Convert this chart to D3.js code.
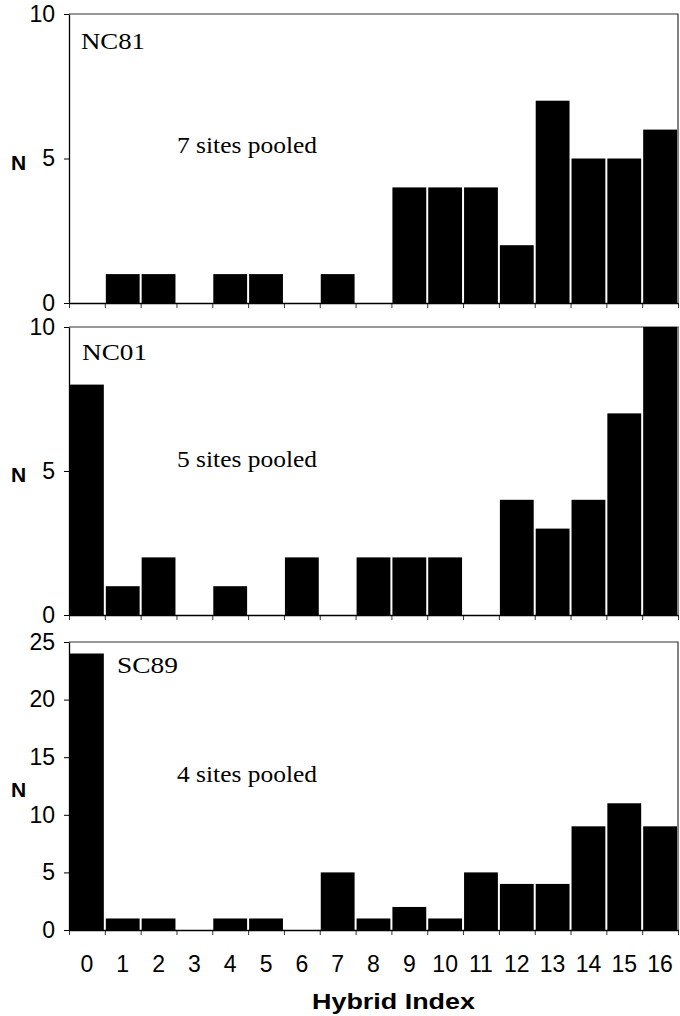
<!DOCTYPE html>
<html>
<head>
<meta charset="utf-8">
<script src="https://cdn.jsdelivr.net/npm/d3@7"></script>
<style>
  body { margin: 0; background: #fff; }
  svg { display: block; }
</style>
</head>
<body>
<div id="viz"></div>
<script>
const W = 680;
const H = 1016;

const bins = d3.range(0, 17); // hybrid index 0..16
const nc81 = [0, 1, 1, 0, 1, 1, 0, 1, 0, 4, 4, 4, 2, 7, 5, 5, 6];
const nc01 = [8, 1, 2, 0, 1, 0, 2, 0, 2, 2, 2, 0, 4, 3, 4, 7, 10];
const sc89 = [24, 1, 1, 0, 1, 1, 0, 5, 1, 2, 1, 5, 4, 4, 9, 11, 9];

const panels = [
  { name: 'NC81', note: '7 sites pooled', values: nc81, yMax: 10, yTicks: [0, 5, 10],
    top: 14, bottom: 303, nameX: 81, nameY: 49, nameW: 64, noteY: 153, nY: 170 },
  { name: 'NC01', note: '5 sites pooled', values: nc01, yMax: 10, yTicks: [0, 5, 10],
    top: 327, bottom: 615, nameX: 82, nameY: 360, nameW: 65, noteY: 467, nY: 482 },
  { name: 'SC89', note: '4 sites pooled', values: sc89, yMax: 25, yTicks: [0, 5, 10, 15, 20, 25],
    top: 642, bottom: 930, nameX: 117, nameY: 673, nameW: 61, noteY: 782, nY: 797 },
];

const LEFT = 69;
const RIGHT = 678;
const SANS = 'Liberation Sans, Arial, sans-serif';
const SERIF = 'Liberation Serif, Times New Roman, serif';

const svg = d3.select('#viz').append('svg').attr('width', W).attr('height', H);

const x = d3.scaleBand().domain(bins).range([LEFT, RIGHT]).paddingInner(0).paddingOuter(0);
const xe = d3.scaleLinear().domain([0, 17]).range([LEFT, RIGHT]);

panels.forEach((p) => {
  const y = d3.scaleLinear().domain([0, p.yMax]).range([p.bottom, p.top]);
  const g = svg.append('g');

  // frame top + right
  g.append('path')
    .attr('d', `M${LEFT},${p.top}H${RIGHT}V${p.bottom}`)
    .attr('fill', 'none').attr('stroke', '#333').attr('stroke-width', 1.2);

  // bars
  g.selectAll('rect')
    .data(p.values.map((v, i) => ({ i, v })).filter((d) => d.v > 0))
    .join('rect')
    .attr('x', (d) => x(d.i) + 1)
    .attr('width', x.bandwidth() - 2)
    .attr('y', (d) => y(d.v))
    .attr('height', (d) => y(0) - y(d.v))
    .attr('fill', '#000');

  // y axis
  const ya = g.append('g')
    .attr('transform', `translate(${LEFT},0)`)
    .call(d3.axisLeft(y).tickValues(p.yTicks).tickSize(5).tickSizeOuter(0).tickPadding(9));
  ya.select('.domain').attr('stroke', '#000').attr('stroke-width', 1.3);
  ya.selectAll('.tick line').attr('stroke', '#000');
  ya.selectAll('text')
    .attr('font-family', SANS)
    .attr('font-size', 23).attr('fill', '#000');

  // x axis (ticks at bin edges)
  const xa = g.append('g')
    .attr('transform', `translate(0,${p.bottom})`)
    .call(d3.axisBottom(xe).tickValues(d3.range(0, 18)).tickSize(5).tickSizeOuter(0).tickFormat(''));
  xa.select('.domain').attr('stroke', '#000').attr('stroke-width', 1.3);
  xa.selectAll('.tick line').attr('stroke', '#000').attr('stroke-width', 0.8);

  // labels
  g.append('text').attr('x', p.nameX).attr('y', p.nameY)
    .attr('font-family', SERIF).attr('font-size', 23)
    .attr('textLength', p.nameW).attr('lengthAdjust', 'spacingAndGlyphs')
    .text(p.name);
  g.append('text').attr('x', 177).attr('y', p.noteY)
    .attr('font-family', SERIF).attr('font-size', 24)
    .attr('textLength', 140).attr('lengthAdjust', 'spacingAndGlyphs')
    .text(p.note);
  g.append('text').attr('x', 11).attr('y', p.nY)
    .attr('font-family', SANS)
    .attr('font-weight', 'bold').attr('font-size', 21).text('N');
});

// category labels under bottom panel
svg.append('g')
  .selectAll('text')
  .data(bins)
  .join('text')
  .attr('x', (d) => x(d) + x.bandwidth() / 2)
  .attr('y', 972)
  .attr('text-anchor', 'middle')
  .attr('font-family', SANS)
  .attr('font-size', 23)
  .text((d) => d);

svg.append('text')
  .attr('x', 312)
  .attr('y', 1009)
  .attr('font-family', SANS)
  .attr('font-weight', 'bold')
  .attr('font-size', 22)
  .attr('textLength', 163).attr('lengthAdjust', 'spacingAndGlyphs')
  .text('Hybrid Index');
</script>
</body>
</html>
